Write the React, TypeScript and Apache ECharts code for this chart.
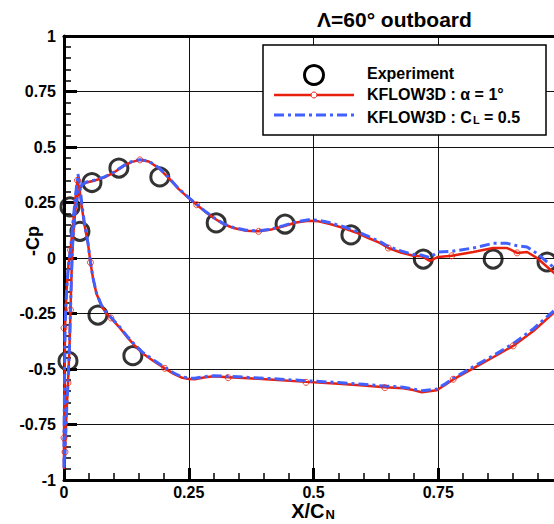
import React, { useEffect, useRef } from "react";
import * as echarts from "echarts";

const FONT = '"Liberation Sans", Arial, Helvetica, sans-serif';
const RED = "#e8200e";
const BLUE = "#4060ff";

// Title / legend / axis texts
const titleText = "Λ=60° outboard";
const yAxisName = "-Cp";
const xAxisName = "{a|X/C}{s|N}";
const legendExperiment = "Experiment";
const legendRed = "KFLOW3D : α = 1°";
const legendBlue = "{a|KFLOW3D : C}{s|L}{a| = 0.5}";

// Axis ticks
const xTicks = [0, 0.25, 0.5, 0.75, 1];
const yTicks = [-1, -0.75, -0.5, -0.25, 0, 0.25, 0.5, 0.75, 1];

// Experiment
const expX = [0.008, 0.012, 0.032, 0.056, 0.068, 0.11, 0.138, 0.192, 0.305, 0.443, 0.575, 0.72, 0.86, 0.968];
const expY = [-0.464, 0.23, 0.12, 0.34, -0.257, 0.405, -0.44, 0.365, 0.158, 0.153, 0.104, -0.005, -0.005, -0.018];

// KFLOW3D alpha = 1 deg, upper branch (LE -> TE)
const redUpX = [0.0, 0.002, 0.005, 0.008, 0.011, 0.013, 0.015, 0.017, 0.02, 0.024, 0.029, 0.036, 0.045, 0.06, 0.08, 0.1, 0.12, 0.135, 0.152, 0.17, 0.19, 0.21, 0.23, 0.25, 0.266, 0.285, 0.3, 0.32, 0.34, 0.365, 0.39, 0.415, 0.44, 0.465, 0.49, 0.51, 0.535, 0.56, 0.585, 0.61, 0.633, 0.65, 0.675, 0.7, 0.717, 0.733, 0.75, 0.777, 0.82, 0.86, 0.888, 0.908, 0.928, 0.948, 0.98, 1.0];
const redUpY = [-0.95, -0.873, -0.7, -0.563, -0.4, -0.234, -0.08, 0.05, 0.15, 0.24, 0.3, 0.33, 0.34, 0.348, 0.362, 0.385, 0.415, 0.432, 0.442, 0.435, 0.405, 0.36, 0.31, 0.27, 0.24, 0.205, 0.18, 0.152, 0.135, 0.123, 0.12, 0.128, 0.143, 0.16, 0.168, 0.165, 0.152, 0.135, 0.115, 0.09, 0.068, 0.045, 0.025, 0.01, 0.008, -0.013, 0.005, 0.01, 0.027, 0.045, 0.045, 0.023, 0.027, 0.0, -0.063, -0.1];
// lower branch (LE -> TE)
const redLoX = [0.0, 0.0, 0.001, 0.002, 0.005, 0.009, 0.013, 0.018, 0.023, 0.027, 0.031, 0.035, 0.041, 0.048, 0.053, 0.058, 0.065, 0.075, 0.085, 0.094, 0.11, 0.126, 0.142, 0.158, 0.18, 0.202, 0.22, 0.235, 0.25, 0.262, 0.28, 0.3, 0.329, 0.37, 0.42, 0.485, 0.55, 0.6, 0.643, 0.68, 0.7, 0.717, 0.747, 0.765, 0.78, 0.82, 0.86, 0.9, 0.94, 0.978, 1.0];
const redLoY = [-0.95, -0.81, -0.6, -0.315, -0.15, -0.03, 0.036, 0.15, 0.27, 0.35, 0.31, 0.24, 0.15, 0.066, -0.02, -0.09, -0.16, -0.215, -0.25, -0.27, -0.31, -0.355, -0.395, -0.43, -0.465, -0.497, -0.522, -0.538, -0.545, -0.546, -0.538, -0.533, -0.537, -0.542, -0.548, -0.558, -0.566, -0.574, -0.582, -0.587, -0.595, -0.605, -0.596, -0.57, -0.547, -0.497, -0.447, -0.396, -0.33, -0.254, -0.21];
// marker points on the red curve
const redMarkX = [0.002, 0.0, 0.008, 0.0, 0.013, 0.013, 0.027, 0.053, 0.094, 0.202, 0.329, 0.485, 0.643, 0.78, 0.9, 0.152, 0.266, 0.39, 0.65, 0.777, 0.908];
const redMarkY = [-0.873, -0.81, -0.563, -0.315, -0.234, 0.036, 0.35, -0.02, -0.27, -0.497, -0.539, -0.56, -0.584, -0.546, -0.396, 0.442, 0.24, 0.12, 0.045, 0.01, 0.023];

// KFLOW3D CL = 0.5, upper branch (LE -> TE)
const blueUpX = [0.0, 0.002, 0.005, 0.008, 0.011, 0.013, 0.015, 0.017, 0.02, 0.024, 0.029, 0.036, 0.045, 0.06, 0.08, 0.1, 0.12, 0.135, 0.152, 0.17, 0.19, 0.21, 0.23, 0.25, 0.266, 0.285, 0.3, 0.32, 0.34, 0.365, 0.39, 0.415, 0.44, 0.465, 0.49, 0.51, 0.535, 0.56, 0.585, 0.61, 0.633, 0.65, 0.675, 0.7, 0.717, 0.733, 0.75, 0.777, 0.82, 0.86, 0.888, 0.908, 0.928, 0.948, 0.98, 1.0];
const blueUpY = [-0.95, -0.873, -0.7, -0.563, -0.4, -0.234, -0.08, 0.05, 0.15, 0.24, 0.3, 0.33, 0.342, 0.35, 0.364, 0.387, 0.417, 0.434, 0.443, 0.436, 0.407, 0.362, 0.312, 0.272, 0.242, 0.207, 0.182, 0.154, 0.137, 0.125, 0.122, 0.13, 0.146, 0.163, 0.172, 0.17, 0.158, 0.141, 0.121, 0.097, 0.074, 0.052, 0.032, 0.016, 0.013, 0.002, 0.027, 0.03, 0.045, 0.066, 0.066, 0.055, 0.05, 0.02, -0.04, -0.08];
// lower branch (LE -> TE)
const blueLoX = [0.0, 0.0, 0.001, 0.002, 0.005, 0.009, 0.013, 0.018, 0.023, 0.028, 0.032, 0.036, 0.041, 0.048, 0.053, 0.058, 0.065, 0.075, 0.085, 0.094, 0.11, 0.126, 0.142, 0.158, 0.18, 0.202, 0.22, 0.235, 0.25, 0.262, 0.28, 0.3, 0.329, 0.37, 0.42, 0.485, 0.55, 0.6, 0.643, 0.68, 0.7, 0.717, 0.747, 0.765, 0.78, 0.82, 0.86, 0.9, 0.94, 0.978, 1.0];
const blueLoY = [-0.95, -0.81, -0.6, -0.315, -0.15, -0.03, 0.04, 0.16, 0.28, 0.378, 0.32, 0.24, 0.155, 0.068, -0.018, -0.088, -0.158, -0.212, -0.247, -0.267, -0.306, -0.351, -0.391, -0.426, -0.461, -0.493, -0.518, -0.534, -0.541, -0.542, -0.535, -0.53, -0.533, -0.538, -0.544, -0.553, -0.561, -0.569, -0.577, -0.582, -0.59, -0.598, -0.59, -0.565, -0.542, -0.49, -0.44, -0.386, -0.32, -0.245, -0.2];

function zip(xs: number[], ys: number[]) {
  return xs.map((x, i) => [x, ys[i]]);
}
function loop(upX: number[], upY: number[], loX: number[], loY: number[]) {
  return zip(upX, upY).reverse().concat(zip(loX, loY));
}

export default function App() {
  const ref = useRef<HTMLDivElement>(null);
  useEffect(() => {
    if (!ref.current) return;
    const chart = echarts.init(ref.current, null, { renderer: "svg" });
    const labelStyle = { fontSize: 16, fontWeight: "bold" as const, color: "#000", fontFamily: FONT };
    const option: any = {
      animation: false,
      backgroundColor: "#fff",
      title: {
        text: titleText,
        left: 312,
        top: 4,
        textStyle: { fontSize: 21, fontWeight: "bold", color: "#000", fontFamily: FONT },
      },
      grid: { left: 64, top: 36, right: -9, bottom: 44, containLabel: false, outerBoundsMode: "none" },
      xAxis: [
        {
          type: "value",
          min: xTicks[0],
          max: xTicks[xTicks.length - 1],
          interval: 0.25,
          position: "bottom",
          axisLine: { show: true, onZero: false, lineStyle: { color: "#000", width: 3 } },
          axisTick: { show: true, inside: true, length: 12, lineStyle: { color: "#000", width: 3 } },
          minorTick: { show: true, splitNumber: 5, length: 7, lineStyle: { color: "#000", width: 1.5 } },
          splitLine: { show: true, lineStyle: { color: "#111", width: 1 } },
          axisLabel: {
            ...labelStyle,
            margin: 4,
            formatter: (v: number) => (v === 1 ? "" : String(v)),
          },
        },
        {
          type: "value",
          min: 0,
          max: 1,
          position: "top",
          axisLine: { show: true, onZero: false, lineStyle: { color: "#000", width: 3 } },
          axisTick: { show: false },
          axisLabel: { show: false },
          splitLine: { show: false },
        },
      ],
      yAxis: {
        type: "value",
        min: yTicks[0],
        max: yTicks[yTicks.length - 1],
        interval: 0.25,
        axisLine: { show: true, onZero: false, lineStyle: { color: "#000", width: 3 } },
        axisTick: { show: true, inside: true, length: 13, lineStyle: { color: "#000", width: 3 } },
        minorTick: { show: true, splitNumber: 5, length: 7, lineStyle: { color: "#000", width: 1.5 } },
        splitLine: { show: true, lineStyle: { color: "#111", width: 1 } },
        axisLabel: { ...labelStyle, margin: 8 },
      },
      series: [
        {
          type: "scatter",
          name: legendExperiment,
          data: zip(expX, expY),
          symbol: "circle",
          symbolSize: 18,
          itemStyle: { color: "rgba(0,0,0,0)", borderColor: "#000", borderWidth: 3 },
          z: 2,
          silent: true,
        },
        {
          type: "line",
          name: legendRed,
          data: loop(redUpX, redUpY, redLoX, redLoY),
          symbol: "none",
          showSymbol: false,
          lineStyle: { color: RED, width: 2.5 },
          z: 3,
          silent: true,
        },
        {
          type: "line",
          name: "KFLOW3D : CL = 0.5",
          data: loop(blueUpX, blueUpY, blueLoX, blueLoY),
          symbol: "none",
          showSymbol: false,
          lineStyle: { color: BLUE, width: 3, type: [10, 4, 3, 4] },
          z: 4,
          silent: true,
        },
        {
          type: "scatter",
          name: "markers",
          data: zip(redMarkX, redMarkY),
          symbol: "circle",
          symbolSize: 6,
          itemStyle: { color: "rgba(0,0,0,0)", borderColor: RED, borderWidth: 1 },
          z: 5,
          silent: true,
        },
      ],
      graphic: [
        {
          type: "text",
          z: 50,
          x: 33,
          y: 241,
          rotation: Math.PI / 2,
          style: { text: yAxisName, fontSize: 18, fontWeight: "bold", fontFamily: FONT, fill: "#000", align: "center", verticalAlign: "middle" },
        },
        {
          type: "text",
          z: 50,
          x: 313,
          y: 510,
          style: {
            text: xAxisName,
            align: "center",
            verticalAlign: "middle",
            rich: {
              a: { fontSize: 20, fontWeight: "bold", fontFamily: FONT, fill: "#000", lineHeight: 22, verticalAlign: "bottom" },
              s: { fontSize: 13, fontWeight: "bold", fontFamily: FONT, fill: "#000", lineHeight: 22, verticalAlign: "bottom", padding: [5, 0, 0, 1] },
            },
          },
        },
        {
          type: "rect",
          z: 100,
          shape: { x: 263, y: 45, width: 283, height: 90 },
          style: { fill: "#fff", stroke: "#000", lineWidth: 1.5 },
        },
        {
          type: "circle",
          z: 101,
          shape: { cx: 314, cy: 75, r: 9.5 },
          style: { fill: "none", stroke: "#000", lineWidth: 3 },
        },
        {
          type: "line",
          z: 101,
          shape: { x1: 274, y1: 95, x2: 354, y2: 95 },
          style: { stroke: RED, lineWidth: 2.5 },
        },
        {
          type: "circle",
          z: 102,
          shape: { cx: 314, cy: 95, r: 3 },
          style: { fill: "#fff", stroke: RED, lineWidth: 1 },
        },
        {
          type: "line",
          z: 101,
          shape: { x1: 274, y1: 115, x2: 354, y2: 115 },
          style: { stroke: BLUE, lineWidth: 3, lineDash: [10, 4, 3, 4] },
        },
        {
          type: "text",
          z: 101,
          x: 367,
          y: 73,
          style: { text: legendExperiment, fontSize: 16, fontWeight: "bold", fontFamily: FONT, fill: "#000", verticalAlign: "middle", align: "left" },
        },
        {
          type: "text",
          z: 101,
          x: 367,
          y: 94,
          style: { text: legendRed, fontSize: 16, fontWeight: "bold", fontFamily: FONT, fill: "#000", verticalAlign: "middle", align: "left" },
        },
        {
          type: "text",
          z: 101,
          x: 367,
          y: 116,
          style: {
            text: legendBlue,
            verticalAlign: "middle",
            align: "left",
            rich: {
              a: { fontSize: 16, fontWeight: "bold", fontFamily: FONT, fill: "#000", lineHeight: 18, verticalAlign: "bottom" },
              s: { fontSize: 11, fontWeight: "bold", fontFamily: FONT, fill: "#000", lineHeight: 18, verticalAlign: "bottom", padding: [6, 0, 0, 1] },
            },
          },
        },
      ],
    };
    chart.setOption(option);
    return () => chart.dispose();
  }, []);
  return (
    <div
      ref={ref}
      style={{ position: "absolute", left: 0, top: 0, width: 554, height: 524, background: "#fff" }}
    />
  );
}
